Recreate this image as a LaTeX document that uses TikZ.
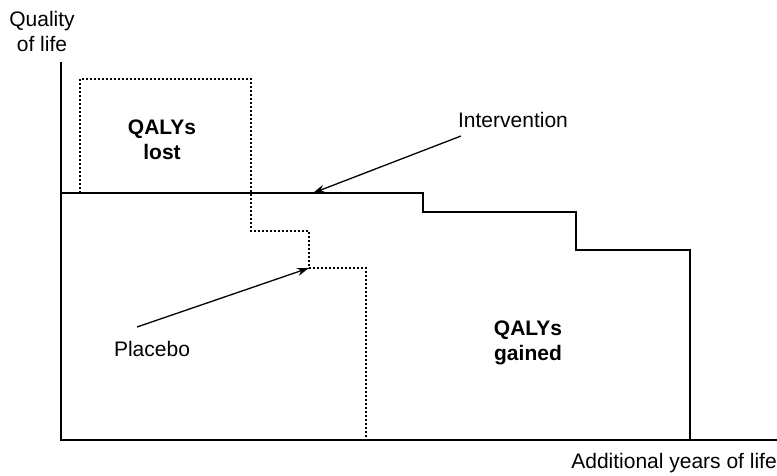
\documentclass[tikz,border=0pt]{standalone}
\usepackage{fontspec}
\setmainfont{Liberation Sans}
\usetikzlibrary{arrows.meta}
\begin{document}
\begin{tikzpicture}[x=1pt,y=-1pt,
  lbl/.style={font=\fontsize{21}{25}\selectfont, inner sep=0pt, align=center},
  blbl/.style={lbl, font=\fontsize{21}{25}\selectfont\bfseries},
  axisline/.style={line width=1.4pt},
  interv/.style={line width=1.4pt},
  placebo/.style={line width=1.5pt, dash pattern=on 2pt off 2pt},
  pointer/.style={line width=1.3pt, -{Stealth[length=12pt,width=8pt]}}]
\useasboundingbox (0,0) rectangle (777,475);
% axes
\coordinate (o) at (61,440);
\coordinate (ytop) at (61,62);
\coordinate (xend) at (777,440);
\draw[axisline] (ytop) -- (o) -- (xend);
% intervention
\coordinate (i0) at (61,193);
\coordinate (i1) at (690,440);
\draw[interv] (i0) -- (423,193) -- (423,212) -- (576,212) -- (576,250) -- (690,250) -- (i1);
% placebo
\coordinate (p0) at (80,193);
\coordinate (p1) at (366,440);
\draw[placebo] (p0) -- (80,79) -- (251,79) -- (251,231) -- (309,231) -- (309,268) -- (366,268) -- (p1);
% labels
\node[lbl] (ql) at (42,31) {Quality\\of life};
\node[lbl, anchor=east] (xl) at (777,463) {Additional years of life};
\node[lbl] (il) at (513,120) {Intervention};
\node[lbl] (pl) at (152,349) {Placebo};
\node[blbl] (lost) at (162,140) {QALYs\\lost};
\node[blbl] (gained) at (528,343) {QALYs\\gained};
% pointers
\coordinate (ia) at (461,136);
\coordinate (ib) at (313,193);
\coordinate (pa) at (137,327);
\coordinate (pb) at (309,268);
\draw[pointer] (ia) -- (ib);
\draw[pointer] (pa) -- (pb);
\end{tikzpicture}
\end{document}
